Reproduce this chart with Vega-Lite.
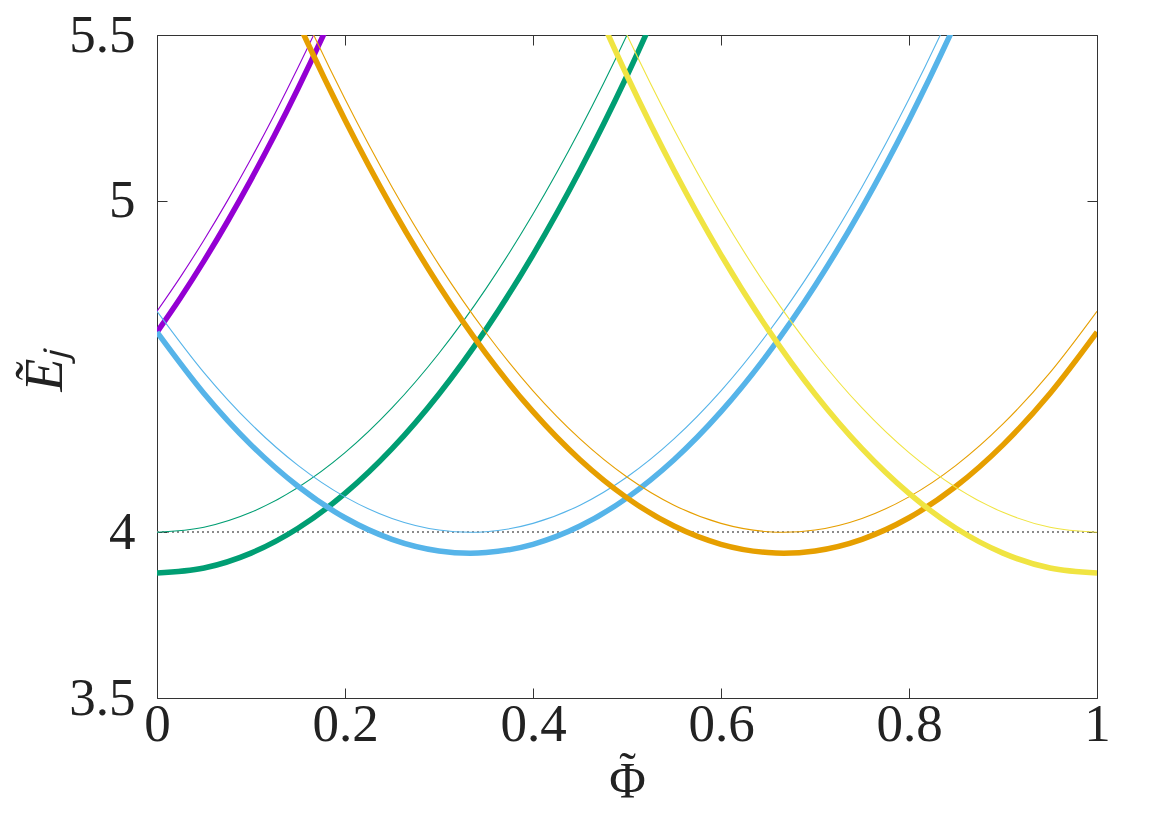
{
  "$schema": "https://vega.github.io/schema/vega-lite/v6.json",
  "width": 940,
  "height": 663,
  "autosize": {"type": "none"},
  "padding": {"left": 157, "top": 35, "right": 66, "bottom": 118},
  "background": "white",
  "config": {
    "view": {"stroke": null},
    "font": "Liberation Serif",
    "axis": {
      "grid": false,
      "domainColor": "#333333",
      "domainWidth": 1,
      "tickColor": "#333333",
      "tickWidth": 1,
      "tickSize": -10,
      "labelFont": "Liberation Serif",
      "labelFontSize": 53,
      "labelColor": "#222222",
      "labelFlush": false,
      "titleFont": "Liberation Serif",
      "titleFontWeight": "normal",
      "titleColor": "#222222",
      "titleFontSize": 54
    }
  },
  "data": {
    "values": [
      {"c": "purple", "k": "thin", "p": 0, "E": 4.6667},
      {"c": "purple", "k": "thin", "p": 0.025, "E": 4.7704},
      {"c": "purple", "k": "thin", "p": 0.05, "E": 4.8817},
      {"c": "purple", "k": "thin", "p": 0.075, "E": 5.0004},
      {"c": "purple", "k": "thin", "p": 0.1, "E": 5.1267},
      {"c": "purple", "k": "thin", "p": 0.125, "E": 5.2604},
      {"c": "purple", "k": "thin", "p": 0.15, "E": 5.4017},
      {"c": "purple", "k": "thin", "p": 0.175, "E": 5.5504},
      {"c": "purple", "k": "thin", "p": 0.2, "E": 5.7067},
      {"c": "purple", "k": "thick", "p": 0, "E": 4.6037},
      {"c": "purple", "k": "thick", "p": 0.025, "E": 4.7074},
      {"c": "purple", "k": "thick", "p": 0.05, "E": 4.8187},
      {"c": "purple", "k": "thick", "p": 0.075, "E": 4.9374},
      {"c": "purple", "k": "thick", "p": 0.1, "E": 5.0637},
      {"c": "purple", "k": "thick", "p": 0.125, "E": 5.1974},
      {"c": "purple", "k": "thick", "p": 0.15, "E": 5.3387},
      {"c": "purple", "k": "thick", "p": 0.175, "E": 5.4874},
      {"c": "purple", "k": "thick", "p": 0.2, "E": 5.6437},

      {"c": "green", "k": "thin", "p": 0, "E": 4},
      {"c": "green", "k": "thin", "p": 0.05, "E": 4.015},
      {"c": "green", "k": "thin", "p": 0.1, "E": 4.06},
      {"c": "green", "k": "thin", "p": 0.15, "E": 4.135},
      {"c": "green", "k": "thin", "p": 0.2, "E": 4.24},
      {"c": "green", "k": "thin", "p": 0.25, "E": 4.375},
      {"c": "green", "k": "thin", "p": 0.3, "E": 4.54},
      {"c": "green", "k": "thin", "p": 0.35, "E": 4.735},
      {"c": "green", "k": "thin", "p": 0.4, "E": 4.96},
      {"c": "green", "k": "thin", "p": 0.45, "E": 5.215},
      {"c": "green", "k": "thin", "p": 0.5, "E": 5.5},
      {"c": "green", "k": "thin", "p": 0.55, "E": 5.815},
      {"c": "green", "k": "thick", "p": 0, "E": 3.877},
      {"c": "green", "k": "thick", "p": 0.05, "E": 3.892},
      {"c": "green", "k": "thick", "p": 0.1, "E": 3.937},
      {"c": "green", "k": "thick", "p": 0.15, "E": 4.012},
      {"c": "green", "k": "thick", "p": 0.2, "E": 4.117},
      {"c": "green", "k": "thick", "p": 0.25, "E": 4.252},
      {"c": "green", "k": "thick", "p": 0.3, "E": 4.417},
      {"c": "green", "k": "thick", "p": 0.35, "E": 4.612},
      {"c": "green", "k": "thick", "p": 0.4, "E": 4.837},
      {"c": "green", "k": "thick", "p": 0.45, "E": 5.092},
      {"c": "green", "k": "thick", "p": 0.5, "E": 5.377},
      {"c": "green", "k": "thick", "p": 0.55, "E": 5.692},

      {"c": "blue", "k": "thin", "p": 0, "E": 4.6667},
      {"c": "blue", "k": "thin", "p": 0.05, "E": 4.4817},
      {"c": "blue", "k": "thin", "p": 0.1, "E": 4.3267},
      {"c": "blue", "k": "thin", "p": 0.15, "E": 4.2017},
      {"c": "blue", "k": "thin", "p": 0.2, "E": 4.1067},
      {"c": "blue", "k": "thin", "p": 0.25, "E": 4.0417},
      {"c": "blue", "k": "thin", "p": 0.3, "E": 4.0067},
      {"c": "blue", "k": "thin", "p": 0.3333, "E": 4},
      {"c": "blue", "k": "thin", "p": 0.35, "E": 4.0017},
      {"c": "blue", "k": "thin", "p": 0.4, "E": 4.0267},
      {"c": "blue", "k": "thin", "p": 0.45, "E": 4.0817},
      {"c": "blue", "k": "thin", "p": 0.5, "E": 4.1667},
      {"c": "blue", "k": "thin", "p": 0.55, "E": 4.2817},
      {"c": "blue", "k": "thin", "p": 0.6, "E": 4.4267},
      {"c": "blue", "k": "thin", "p": 0.65, "E": 4.6017},
      {"c": "blue", "k": "thin", "p": 0.7, "E": 4.8067},
      {"c": "blue", "k": "thin", "p": 0.75, "E": 5.0417},
      {"c": "blue", "k": "thin", "p": 0.8, "E": 5.3067},
      {"c": "blue", "k": "thin", "p": 0.85, "E": 5.6017},
      {"c": "blue", "k": "thin", "p": 0.9, "E": 5.9267},
      {"c": "blue", "k": "thick", "p": 0, "E": 4.6037},
      {"c": "blue", "k": "thick", "p": 0.05, "E": 4.4187},
      {"c": "blue", "k": "thick", "p": 0.1, "E": 4.2637},
      {"c": "blue", "k": "thick", "p": 0.15, "E": 4.1387},
      {"c": "blue", "k": "thick", "p": 0.2, "E": 4.0437},
      {"c": "blue", "k": "thick", "p": 0.25, "E": 3.9787},
      {"c": "blue", "k": "thick", "p": 0.3, "E": 3.9437},
      {"c": "blue", "k": "thick", "p": 0.3333, "E": 3.937},
      {"c": "blue", "k": "thick", "p": 0.35, "E": 3.9387},
      {"c": "blue", "k": "thick", "p": 0.4, "E": 3.9637},
      {"c": "blue", "k": "thick", "p": 0.45, "E": 4.0187},
      {"c": "blue", "k": "thick", "p": 0.5, "E": 4.1037},
      {"c": "blue", "k": "thick", "p": 0.55, "E": 4.2187},
      {"c": "blue", "k": "thick", "p": 0.6, "E": 4.3637},
      {"c": "blue", "k": "thick", "p": 0.65, "E": 4.5387},
      {"c": "blue", "k": "thick", "p": 0.7, "E": 4.7437},
      {"c": "blue", "k": "thick", "p": 0.75, "E": 4.9787},
      {"c": "blue", "k": "thick", "p": 0.8, "E": 5.2437},
      {"c": "blue", "k": "thick", "p": 0.85, "E": 5.5387},
      {"c": "blue", "k": "thick", "p": 0.9, "E": 5.8637},

      {"c": "orange", "k": "thin", "p": 0.1, "E": 5.9267},
      {"c": "orange", "k": "thin", "p": 0.15, "E": 5.6017},
      {"c": "orange", "k": "thin", "p": 0.2, "E": 5.3067},
      {"c": "orange", "k": "thin", "p": 0.25, "E": 5.0417},
      {"c": "orange", "k": "thin", "p": 0.3, "E": 4.8067},
      {"c": "orange", "k": "thin", "p": 0.35, "E": 4.6017},
      {"c": "orange", "k": "thin", "p": 0.4, "E": 4.4267},
      {"c": "orange", "k": "thin", "p": 0.45, "E": 4.2817},
      {"c": "orange", "k": "thin", "p": 0.5, "E": 4.1667},
      {"c": "orange", "k": "thin", "p": 0.55, "E": 4.0817},
      {"c": "orange", "k": "thin", "p": 0.6, "E": 4.0267},
      {"c": "orange", "k": "thin", "p": 0.65, "E": 4.0017},
      {"c": "orange", "k": "thin", "p": 0.6667, "E": 4},
      {"c": "orange", "k": "thin", "p": 0.7, "E": 4.0067},
      {"c": "orange", "k": "thin", "p": 0.75, "E": 4.0417},
      {"c": "orange", "k": "thin", "p": 0.8, "E": 4.1067},
      {"c": "orange", "k": "thin", "p": 0.85, "E": 4.2017},
      {"c": "orange", "k": "thin", "p": 0.9, "E": 4.3267},
      {"c": "orange", "k": "thin", "p": 0.95, "E": 4.4817},
      {"c": "orange", "k": "thin", "p": 1, "E": 4.6667},
      {"c": "orange", "k": "thick", "p": 0.1, "E": 5.8637},
      {"c": "orange", "k": "thick", "p": 0.15, "E": 5.5387},
      {"c": "orange", "k": "thick", "p": 0.2, "E": 5.2437},
      {"c": "orange", "k": "thick", "p": 0.25, "E": 4.9787},
      {"c": "orange", "k": "thick", "p": 0.3, "E": 4.7437},
      {"c": "orange", "k": "thick", "p": 0.35, "E": 4.5387},
      {"c": "orange", "k": "thick", "p": 0.4, "E": 4.3637},
      {"c": "orange", "k": "thick", "p": 0.45, "E": 4.2187},
      {"c": "orange", "k": "thick", "p": 0.5, "E": 4.1037},
      {"c": "orange", "k": "thick", "p": 0.55, "E": 4.0187},
      {"c": "orange", "k": "thick", "p": 0.6, "E": 3.9637},
      {"c": "orange", "k": "thick", "p": 0.65, "E": 3.9387},
      {"c": "orange", "k": "thick", "p": 0.6667, "E": 3.937},
      {"c": "orange", "k": "thick", "p": 0.7, "E": 3.9437},
      {"c": "orange", "k": "thick", "p": 0.75, "E": 3.9787},
      {"c": "orange", "k": "thick", "p": 0.8, "E": 4.0437},
      {"c": "orange", "k": "thick", "p": 0.85, "E": 4.1387},
      {"c": "orange", "k": "thick", "p": 0.9, "E": 4.2637},
      {"c": "orange", "k": "thick", "p": 0.95, "E": 4.4187},
      {"c": "orange", "k": "thick", "p": 1, "E": 4.6037},

      {"c": "yellow", "k": "thin", "p": 0.45, "E": 5.815},
      {"c": "yellow", "k": "thin", "p": 0.5, "E": 5.5},
      {"c": "yellow", "k": "thin", "p": 0.55, "E": 5.215},
      {"c": "yellow", "k": "thin", "p": 0.6, "E": 4.96},
      {"c": "yellow", "k": "thin", "p": 0.65, "E": 4.735},
      {"c": "yellow", "k": "thin", "p": 0.7, "E": 4.54},
      {"c": "yellow", "k": "thin", "p": 0.75, "E": 4.375},
      {"c": "yellow", "k": "thin", "p": 0.8, "E": 4.24},
      {"c": "yellow", "k": "thin", "p": 0.85, "E": 4.135},
      {"c": "yellow", "k": "thin", "p": 0.9, "E": 4.06},
      {"c": "yellow", "k": "thin", "p": 0.95, "E": 4.015},
      {"c": "yellow", "k": "thin", "p": 1, "E": 4},
      {"c": "yellow", "k": "thick", "p": 0.45, "E": 5.692},
      {"c": "yellow", "k": "thick", "p": 0.5, "E": 5.377},
      {"c": "yellow", "k": "thick", "p": 0.55, "E": 5.092},
      {"c": "yellow", "k": "thick", "p": 0.6, "E": 4.837},
      {"c": "yellow", "k": "thick", "p": 0.65, "E": 4.612},
      {"c": "yellow", "k": "thick", "p": 0.7, "E": 4.417},
      {"c": "yellow", "k": "thick", "p": 0.75, "E": 4.252},
      {"c": "yellow", "k": "thick", "p": 0.8, "E": 4.117},
      {"c": "yellow", "k": "thick", "p": 0.85, "E": 4.012},
      {"c": "yellow", "k": "thick", "p": 0.9, "E": 3.937},
      {"c": "yellow", "k": "thick", "p": 0.95, "E": 3.892},
      {"c": "yellow", "k": "thick", "p": 1, "E": 3.877}
    ]
  },
  "layer": [
    {
      "mark": {"type": "rule", "color": "#8a8a8a", "strokeWidth": 1, "strokeDash": [2, 3]},
      "encoding": {
        "x": {"datum": 0, "type": "quantitative", "scale": {"domain": [0, 1], "nice": false},
          "axis": {"orient": "top", "values": [0, 0.2, 0.4, 0.6, 0.8, 1], "labels": false, "title": null}},
        "x2": {"datum": 1},
        "y": {"datum": 4, "type": "quantitative", "scale": {"domain": [3.5, 5.5], "nice": false, "zero": false},
          "axis": {"orient": "right", "values": [3.5, 4, 5, 5.5], "labels": false, "title": null}}
      }
    },
    {
      "mark": {"type": "line", "clip": true, "interpolate": "monotone", "strokeCap": "butt"},
      "encoding": {
        "x": {"field": "p", "type": "quantitative",
          "axis": {"orient": "bottom", "values": [0, 0.2, 0.4, 0.6, 0.8, 1], "labelExpr": "'' + datum.value", "labelFont": "Liberation Serif", "labelPadding": 10, "labelFlush": false, "title": ["˜", "Φ"], "titleFont": "Liberation Serif", "titleFontSize": 50, "titleLineHeight": 10, "titleX": 470, "titleY": 88, "titleBaseline": "alphabetic"}},
        "y": {"field": "E", "type": "quantitative",
          "axis": {"orient": "left", "values": [3.5, 4, 5, 5.5], "labelExpr": "'' + datum.value", "labelFont": "Liberation Serif", "labelPadding": 32, "title": "Ẽⱼ", "titleX": -112, "titleY": 335, "titleFontStyle": "italic", "titleBaseline": "middle"}},
        "color": {"field": "c", "type": "nominal", "legend": null,
          "scale": {"domain": ["purple", "green", "blue", "orange", "yellow"], "range": ["#9400d3", "#009e73", "#56b4e9", "#e69f00", "#f0e442"]}},
        "size": {"field": "k", "type": "ordinal", "legend": null,
          "scale": {"domain": ["thin", "thick"], "range": [1.1, 5.5]}},
        "order": {"field": "p", "type": "quantitative"}
      }
    }
  ],
  "resolve": {"axis": {"x": "independent", "y": "independent"}}
}
